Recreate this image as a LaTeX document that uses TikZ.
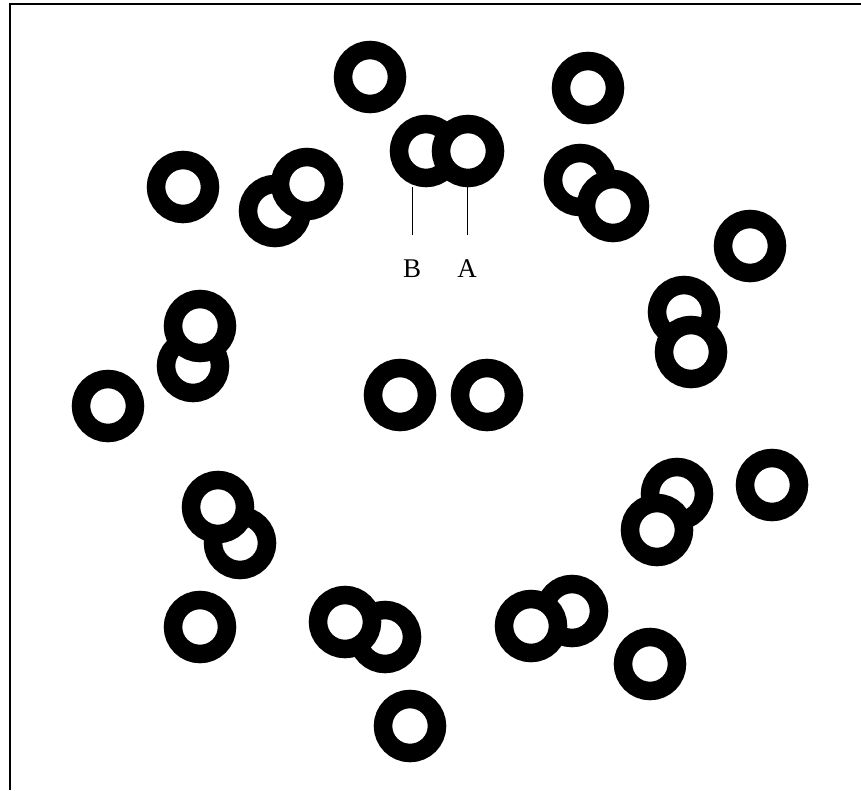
\documentclass[tikz,border=0pt]{standalone}
\usepackage{fontspec}
\setmainfont{Liberation Serif}
\usetikzlibrary{positioning}

\begin{document}
\begin{tikzpicture}[
    x=1pt, y=-1pt,
    ring/.style={circle, draw, fill=white, line width=18.5pt,
                 minimum size=54pt, inner sep=0pt},
    lab/.style={font=\fontsize{27}{30}\selectfont, inner sep=0pt, anchor=base},
    lead/.style={line width=0.8pt}
]
  \useasboundingbox (0,0) rectangle (861,790);
  \draw[line width=2pt] (9.5,790) -- (9.5,3.5) -- (861,3.5);

  \node[ring] (t1) at (370,77) {};
  \node[ring] (t2) at (588,88) {};
  \node[ring] (l1) at (183,187) {};
  \node[ring] (p1b) at (275,211) {};
  \node[ring] (p1a) at (307,184) {};
  \node[ring] (ringB) at (426,151) {};
  \node[ring] (ringA) at (468,151) {};
  \node[ring] (p2a) at (580,180) {};
  \node[ring] (p2b) at (613,206) {};
  \node[ring] (r1) at (750,246) {};
  \node[ring] (p3b) at (193,366) {};
  \node[ring] (p3a) at (200,326) {};
  \node[ring] (p4a) at (684,312) {};
  \node[ring] (p4b) at (691,352) {};
  \node[ring] (l2) at (108,406) {};
  \node[ring] (m1) at (400,395) {};
  \node[ring] (m2) at (487,395) {};
  \node[ring] (p5b) at (240,543) {};
  \node[ring] (p5a) at (218,507) {};
  \node[ring] (p6a) at (677,494) {};
  \node[ring] (p6b) at (657,530) {};
  \node[ring] (r2) at (772,485) {};
  \node[ring] (l3) at (200,627) {};
  \node[ring] (p7b) at (385,637) {};
  \node[ring] (p7a) at (345,622) {};
  \node[ring] (p8b) at (572,611) {};
  \node[ring] (p8a) at (531,626) {};
  \node[ring] (b1) at (650,664) {};
  \node[ring] (b2) at (410,726) {};

  \node[lab] (labB) at (412,277) {B};
  \node[lab] (labA) at (467,277) {A};

  \draw[lead] ([yshift=24pt]labB.north) -- (labB.north |- ringB.south);
  \draw[lead] ([yshift=24pt]labA.north) -- (labA.north |- ringA.south);
\end{tikzpicture}
\end{document}
